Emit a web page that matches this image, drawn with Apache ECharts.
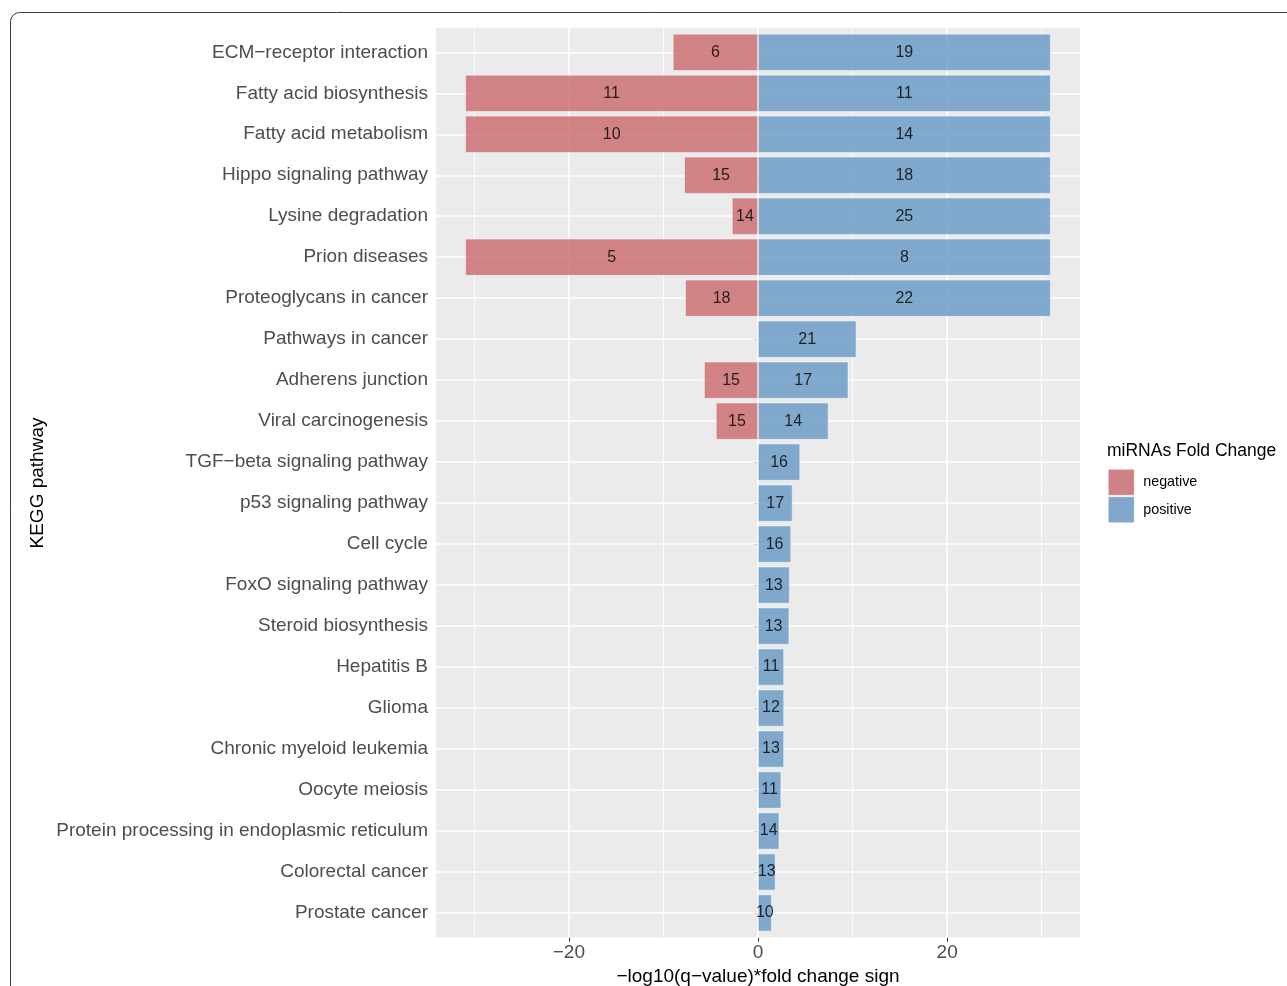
<!DOCTYPE html>
<html>
<head>
<meta charset="utf-8">
<script src="https://cdn.jsdelivr.net/npm/echarts@6/dist/echarts.min.js"></script>
<style>
  html, body { margin: 0; padding: 0; background: #fff; }
  #chart { width: 1287px; height: 986px; }
</style>
</head>
<body>
<div id="chart"></div>
<script>
// KEGG pathways, top to bottom
const categories = [
  'ECM\u2212receptor interaction',
  'Fatty acid biosynthesis',
  'Fatty acid metabolism',
  'Hippo signaling pathway',
  'Lysine degradation',
  'Prion diseases',
  'Proteoglycans in cancer',
  'Pathways in cancer',
  'Adherens junction',
  'Viral carcinogenesis',
  'TGF\u2212beta signaling pathway',
  'p53 signaling pathway',
  'Cell cycle',
  'FoxO signaling pathway',
  'Steroid biosynthesis',
  'Hepatitis B',
  'Glioma',
  'Chronic myeloid leukemia',
  'Oocyte meiosis',
  'Protein processing in endoplasmic reticulum',
  'Colorectal cancer',
  'Prostate cancer'
];

// -log10(q-value) * fold change sign
const negativeScores = [-9.0, -30.95, -30.95, -7.8, -2.75, -30.95, -7.7, null, -5.7, -4.45,
  null, null, null, null, null, null, null, null, null, null, null, null];
const positiveScores = [30.95, 30.95, 30.95, 30.95, 30.95, 30.95, 30.95, 10.4, 9.55, 7.45,
  4.45, 3.65, 3.5, 3.35, 3.3, 2.75, 2.75, 2.75, 2.45, 2.25, 1.85, 1.45];

// number of miRNAs behind each bar
const negativeCounts = [6, 11, 10, 15, 14, 5, 18, null, 15, 15,
  null, null, null, null, null, null, null, null, null, null, null, null];
const positiveCounts = [19, 11, 14, 18, 25, 8, 22, 21, 17, 14,
  16, 17, 16, 13, 13, 11, 12, 13, 11, 14, 13, 10];

// x axis gridlines and tick labels
const majorBreaks = [-20, 0, 20];
const minorBreaks = [-30, -10, 10, 30];

const seriesNames = ['negative', 'positive'];

const FONT = '"Liberation Sans", Arial, Helvetica, sans-serif';
const X_MIN = -34.05, X_MAX = 34.05;
const PANEL = { left: 436, width: 644, top: 27.7, height: 909.9 };
// discrete axis: 0.6 band of padding above the first and below the last pathway
const BAND = PANEL.height / (categories.length - 1 + 1.2);

const fmtNum = v => (v < 0 ? '\u2212' + Math.abs(v) : String(v));

const chart = echarts.init(document.getElementById('chart'), null, { renderer: 'canvas' });

const barLabel = counts => ({
  show: true,
  position: 'inside',
  color: '#000',
  fontFamily: FONT,
  fontSize: 16,
  textBorderWidth: 0,
  formatter: p => (counts[p.dataIndex] == null ? '' : String(counts[p.dataIndex]))
});

const gridLine = w => ({ color: '#ffffff', width: w, type: 'solid', opacity: 1 });

chart.setOption({
  animation: false,
  backgroundColor: '#ffffff',
  textStyle: { fontFamily: FONT },
  grid: [
    // full panel (grey background, vertical gridlines, x axis)
    { left: PANEL.left, width: PANEL.width, top: PANEL.top, height: PANEL.height,
      outerBoundsMode: 'none', containLabel: false,
      show: true, backgroundColor: '#EBEBEB', borderWidth: 0 },
    // bar area: one band per pathway
    { left: PANEL.left, width: PANEL.width, top: PANEL.top + 0.1 * BAND,
      height: BAND * categories.length, outerBoundsMode: 'none', containLabel: false, show: false }
  ],
  xAxis: [
    {
      gridIndex: 0, type: 'value', min: X_MIN, max: X_MAX,
      axisLine: { show: false },
      splitLine: { show: false },
      axisTick: { show: true, customValues: majorBreaks, length: 4, lineStyle: { color: '#333', width: 1 } },
      axisLabel: { show: true, customValues: majorBreaks, formatter: fmtNum, color: '#4D4D4D',
        fontSize: 19, margin: 6, fontFamily: FONT },
      name: '\u2212log10(q\u2212value)*fold change sign',
      nameLocation: 'middle', nameGap: 28,
      nameTextStyle: { color: '#000', fontSize: 19, fontFamily: FONT }
    },
    {
      gridIndex: 1, type: 'value', min: X_MIN, max: X_MAX,
      show: false, splitLine: { show: false }
    }
  ],
  yAxis: [
    { gridIndex: 0, type: 'value', min: 0, max: 1, show: false, splitLine: { show: false } },
    {
      gridIndex: 1, type: 'category', data: categories, inverse: true,
      axisLine: { show: false },
      splitLine: { show: false },
      axisTick: { show: true, alignWithLabel: true, length: 4, lineStyle: { color: '#333', width: 1 } },
      axisLabel: { color: '#4D4D4D', fontSize: 19, margin: 8, fontFamily: FONT, interval: 0 }
    }
  ],
  legend: {
    orient: 'vertical', left: 1108, top: 469, padding: 0,
    itemWidth: 26, itemHeight: 26, itemGap: 1,
    icon: 'rect',
    textStyle: { fontSize: 14.3, color: '#000', fontFamily: FONT, padding: [0, 0, 0, 4] },
    data: [
      { name: seriesNames[0], itemStyle: { color: '#CF8285', opacity: 1, borderColor: '#ffffff', borderWidth: 0.5 } },
      { name: seriesNames[1], itemStyle: { color: '#81A8CC', opacity: 1, borderColor: '#ffffff', borderWidth: 0.5 } }
    ],
    selectedMode: false
  },
  series: [
    {
      // vertical gridlines across the whole panel
      type: 'line', xAxisIndex: 0, yAxisIndex: 0, data: [], silent: true, z: 1,
      markLine: {
        z: 1, silent: true, symbol: ['none', 'none'], label: { show: false }, animation: false,
        emphasis: { disabled: true },
        data: minorBreaks.map(v => ({ xAxis: v, lineStyle: gridLine(0.8) }))
          .concat(majorBreaks.map(v => ({ xAxis: v, lineStyle: gridLine(1.6) })))
      }
    },
    {
      // horizontal gridlines at each pathway
      type: 'line', xAxisIndex: 1, yAxisIndex: 1, data: [], silent: true, z: 1,
      markLine: {
        z: 1, silent: true, symbol: ['none', 'none'], label: { show: false }, animation: false,
        emphasis: { disabled: true },
        data: categories.map(c => ({ yAxis: c, lineStyle: gridLine(1.6) }))
      }
    },
    {
      name: seriesNames[0], type: 'bar', xAxisIndex: 1, yAxisIndex: 1, z: 3,
      data: negativeScores, barWidth: '90%', barGap: '-100%',
      itemStyle: { color: '#C9686B', opacity: 0.8, borderColor: '#ffffff', borderWidth: 0.6 },
      label: barLabel(negativeCounts),
      emphasis: { disabled: true }
    },
    {
      name: seriesNames[1], type: 'bar', xAxisIndex: 1, yAxisIndex: 1, z: 3,
      data: positiveScores, barWidth: '90%', barGap: '-100%',
      itemStyle: { color: '#6597C4', opacity: 0.8, borderColor: '#ffffff', borderWidth: 0.6 },
      label: barLabel(positiveCounts),
      emphasis: { disabled: true }
    }
  ],
  graphic: [
    {
      type: 'rect', silent: true, z: 0,
      shape: { x: 10.5, y: 12.5, width: 1400, height: 1100, r: 9 },
      style: { fill: 'none', stroke: '#3a3a3a', lineWidth: 1 }
    },
    {
      type: 'text', silent: true, x: 38, y: 483, rotation: Math.PI / 2,
      style: { text: 'KEGG pathway', fill: '#000', font: '19px ' + FONT, align: 'center', verticalAlign: 'middle' }
    },
    {
      type: 'text', silent: true, x: 1107, y: 451,
      style: { text: 'miRNAs Fold Change', fill: '#000', font: '17.5px ' + FONT, align: 'left', verticalAlign: 'middle' }
    }
  ]
});
</script>
</body>
</html>
